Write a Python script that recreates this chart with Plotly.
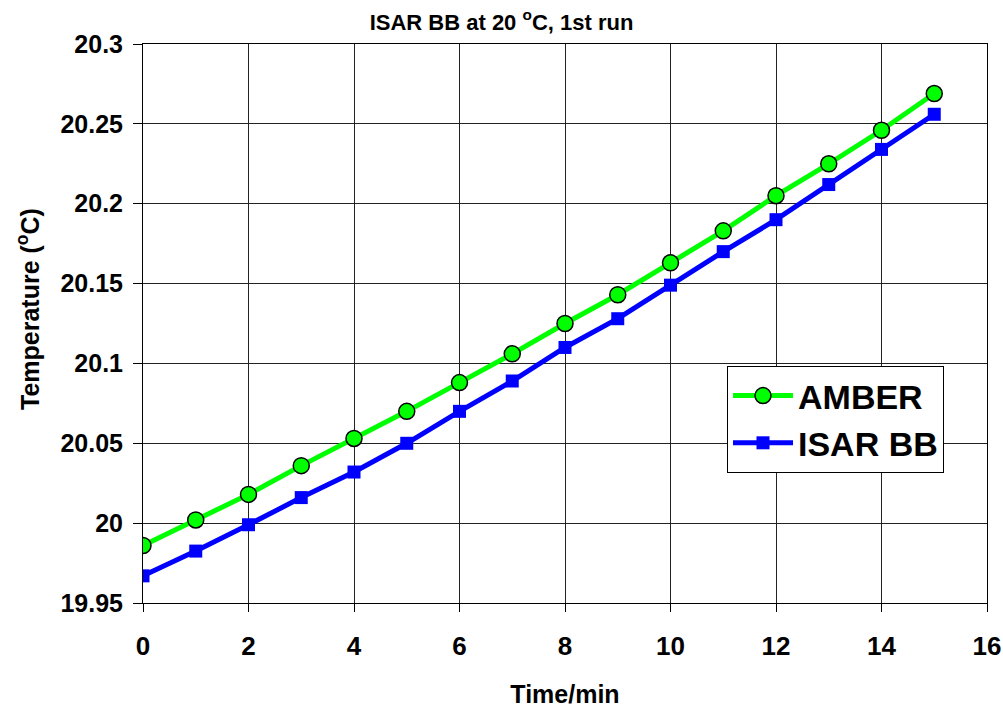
import plotly.graph_objects as go

time_min = list(range(16))
amber = [19.986, 20.002, 20.018, 20.036, 20.053, 20.070, 20.088, 20.106, 20.125,
         20.143, 20.163, 20.183, 20.205, 20.225, 20.246, 20.269]
isar_bb = [19.967, 19.9825, 19.999, 20.016, 20.032, 20.050, 20.070, 20.089, 20.110,
           20.128, 20.149, 20.170, 20.190, 20.212, 20.234, 20.256]
x_ticks = [0, 2, 4, 6, 8, 10, 12, 14, 16]
y_ticks = [19.95, 20.0, 20.05, 20.1, 20.15, 20.2, 20.25, 20.3]
y_ticktext = ["19.95", "20", "20.05", "20.1", "20.15", "20.2", "20.25", "20.3"]

FONT = "Liberation Sans, Arial, sans-serif"

fig = go.Figure()
fig.add_trace(go.Scatter(
    x=time_min, y=amber, name="AMBER", mode="lines+markers",
    line=dict(color="#00ff00", width=5),
    marker=dict(symbol="circle", size=16, color="#00ff00",
                line=dict(color="black", width=1.5)),
))
fig.add_trace(go.Scatter(
    x=time_min, y=isar_bb, name="ISAR BB", mode="lines+markers",
    line=dict(color="#0000ff", width=5),
    marker=dict(symbol="square", size=13, color="#0000ff",
                line=dict(color="#0000ff", width=0)),
))

fig.update_layout(
    width=1003, height=708,
    margin=dict(l=143, r=16, t=44, b=105, autoexpand=False),
    paper_bgcolor="white", plot_bgcolor="white",
    font=dict(family=FONT, color="black", weight="bold"),
    title=dict(text="ISAR BB at 20 <sup>o</sup>C, 1st run",
               x=0.5, xref="container", xanchor="center",
               y=1 - 22 / 708, yanchor="middle",
               font=dict(size=22, family=FONT, weight="bold")),
    showlegend=True,
    legend=dict(x=(727 - 143) / 844, y=(603 - 366) / 559,
                xanchor="left", yanchor="top",
                bgcolor="white", bordercolor="black", borderwidth=1,
                font=dict(size=34, family=FONT, weight="bold"),
                itemwidth=60, tracegroupgap=0),
    annotations=[dict(
        text="Temperature (<sup>o</sup>C)", textangle=-90,
        xref="paper", yref="paper",
        x=(28 - 143) / 844, y=(603 - 309) / 559,
        xanchor="center", yanchor="middle", showarrow=False,
        font=dict(size=25, family=FONT, weight="bold", color="black"),
    )],
)
fig.update_xaxes(
    range=[0, 16], tickvals=x_ticks, ticktext=[str(v) for v in x_ticks],
    tickfont=dict(size=26, family=FONT, weight="bold"),
    showgrid=True, gridcolor="#222222", gridwidth=1,
    showline=True, linecolor="black", linewidth=1, mirror=True,
    ticks="outside", ticklen=8, tickcolor="black", ticklabelstandoff=12,
    zeroline=False, automargin=False,
    title=dict(text="Time/min", font=dict(size=25, family=FONT, weight="bold"), standoff=26),
)
fig.update_yaxes(
    range=[19.95, 20.3], tickvals=y_ticks, ticktext=y_ticktext,
    tickfont=dict(size=25, family=FONT, weight="bold"),
    showgrid=True, gridcolor="#222222", gridwidth=1,
    showline=True, linecolor="black", linewidth=1, mirror=True,
    ticks="outside", ticklen=9, tickcolor="black", ticklabelstandoff=5,
    zeroline=False, automargin=False,
)

fig.write_html("out.html")
